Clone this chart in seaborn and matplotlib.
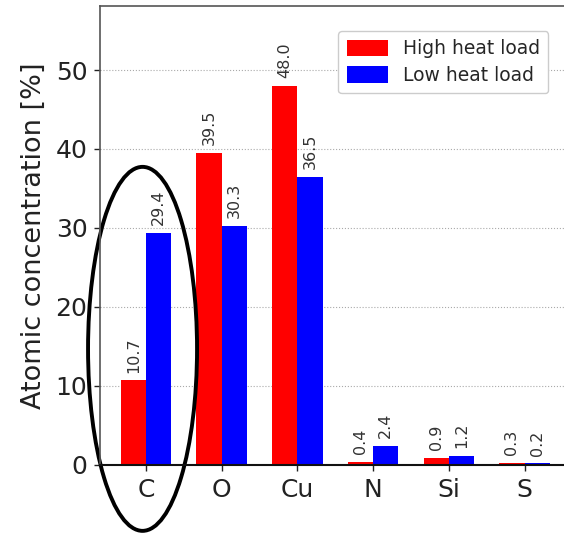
import matplotlib
matplotlib.use("Agg")
import matplotlib.pyplot as plt
import matplotlib.transforms as mtransforms
from matplotlib.patches import Ellipse
import numpy as np
import pandas as pd
import seaborn as sns

elements = ["C", "O", "Cu", "N", "Si", "S"]
high_heat = [10.7, 39.5, 48.0, 0.4, 0.9, 0.3]
low_heat = [29.4, 30.3, 36.5, 2.4, 1.2, 0.2]
series_names = ["High heat load", "Low heat load"]
series_colors = ["#ff0000", "#0000ff"]

df = pd.DataFrame({
    "element": elements * 2,
    "value": high_heat + low_heat,
    "load": [series_names[0]] * len(elements) + [series_names[1]] * len(elements),
})

sns.set_style("white")
plt.rcParams["font.family"] = ["DejaVu Sans"]

fig = plt.figure(figsize=(5.64, 5.37), dpi=100)
ax = fig.add_axes([0.1773, 0.1341, 0.836, 0.8547])

sns.barplot(data=df, x="element", y="value", hue="load", order=elements,
            hue_order=series_names, palette=series_colors, width=0.667,
            saturation=1, edgecolor="none", ax=ax)

for cont in ax.containers:
    ax.bar_label(cont, fmt="%.1f", rotation=90, padding=5.5, fontsize=11.5,
                 color="#333333")

ax.set_xlim(-0.608, 5.62)
ax.set_ylim(0, 58.1)
ax.set_yticks([0, 10, 20, 30, 40, 50])
ax.set_xlabel("")
ax.set_ylabel("Atomic concentration [%]", fontsize=19.5, color="#222222",
              labelpad=6)
ax.tick_params(axis="both", labelsize=18, colors="#222222", length=4.5,
               direction="out", width=1, bottom=True, left=True)
ax.tick_params(axis="x", pad=5)
ax.tick_params(axis="y", pad=4.5)
ax.yaxis.grid(True, linestyle=":", linewidth=0.8, color="#aaaaaa")
ax.set_axisbelow(True)
for side in ["top", "left", "right"]:
    ax.spines[side].set_color("#555555")
    ax.spines[side].set_linewidth(1.2)
ax.spines["bottom"].set_color("#111111")
ax.spines["bottom"].set_linewidth(1.5)

ax.legend(loc="upper left", bbox_to_anchor=(0.505, 0.9455), borderaxespad=0,
          fontsize=13.5, frameon=True, handlelength=2.2, handleheight=1.0,
          framealpha=1, edgecolor="#cccccc", borderpad=0.45,
          labelspacing=0.4, handletextpad=0.8)

# highlight the carbon pair with an ellipse sized in inches
ell_anchor = mtransforms.ScaledTranslation(-0.046, 14.7, ax.transData)
ellipse = Ellipse((0, 0), width=1.09, height=3.64, angle=0,
                  transform=fig.dpi_scale_trans + ell_anchor,
                  fill=False, edgecolor="black", linewidth=2.8, clip_on=False)
ax.add_artist(ellipse)

fig.savefig("out.png", dpi=100)
